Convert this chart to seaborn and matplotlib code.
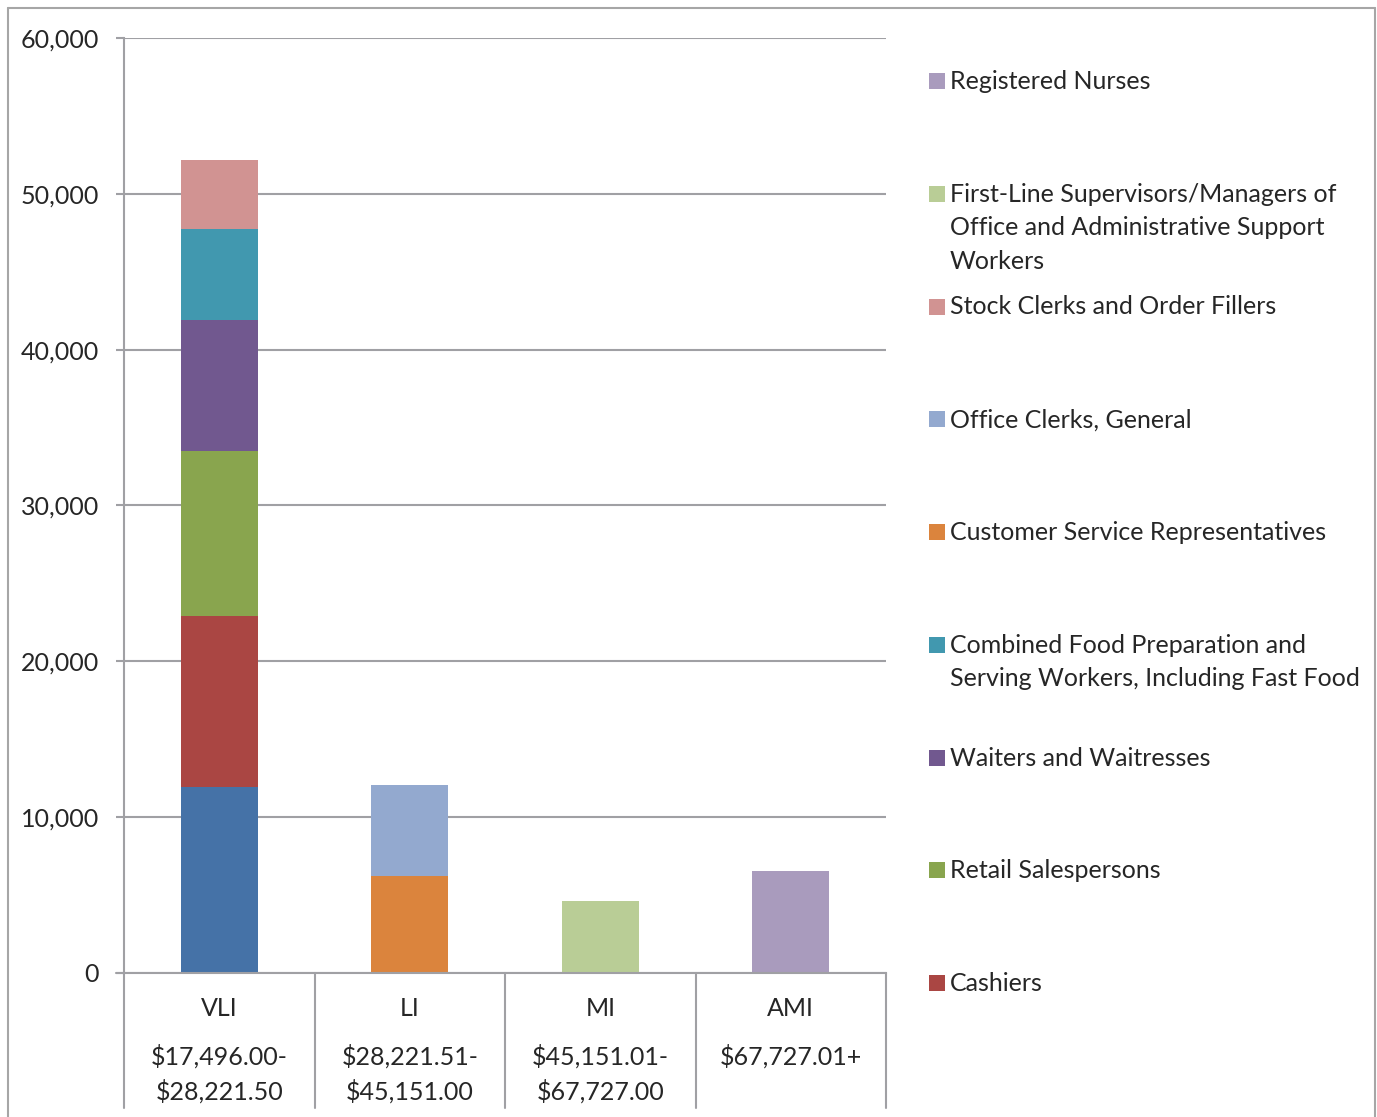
import matplotlib
matplotlib.use("Agg")
import matplotlib.pyplot as plt
import matplotlib.transforms as mtransforms
from matplotlib.patches import Rectangle
from matplotlib.lines import Line2D
import numpy as np
import pandas as pd
import seaborn as sns

# --- data ---
categories = ["VLI", "LI", "MI", "AMI"]
income_ranges = ["$17,496.00-\n$28,221.50", "$28,221.51-\n$45,151.00",
                 "$45,151.01-\n$67,727.00", "$67,727.01+"]

# stacking order (bottom -> top) for each bar
occupations = ["Unlabeled occupation", "Cashiers", "Retail Salespersons",
               "Waiters and Waitresses",
               "Combined Food Preparation and\nServing Workers, Including Fast Food",
               "Stock Clerks and Order Fillers",
               "Customer Service Representatives", "Office Clerks, General",
               "First-Line Supervisors/Managers of\nOffice and Administrative Support\nWorkers",
               "Registered Nurses"]
occ_category = ["VLI", "VLI", "VLI", "VLI", "VLI", "VLI", "LI", "LI", "MI", "AMI"]
employment = [11950, 10960, 10590, 8400, 5840, 4430, 6220, 5840, 4620, 6550]
colors = ["#4572A7", "#AA4643", "#89A54E", "#71588F", "#4198AF", "#D19392",
          "#DB843D", "#93A9CF", "#B9CD96", "#A99BBD"]

# legend order as in the reference (top -> bottom), blue segment not listed
legend_order = [9, 8, 5, 7, 6, 4, 3, 2, 1]

df = pd.DataFrame({"occupation": occupations, "category": occ_category,
                   "employment": employment, "color": colors})
df["top"] = df.groupby("category")["employment"].cumsum()

sns.set_style("white")
plt.rcParams["font.family"] = ["Lato", "DejaVu Sans"]

W, H = 1377, 1117
fig = plt.figure(figsize=(W / 100, H / 100), dpi=100)
ax = fig.add_axes([124 / W, 1 - 973 / H, (886 - 124) / W, (973 - 38) / H])

grid_c = "#A0A0A4"
text_c = "#262626"
fs = 18

# stacked bars: draw cumulative tops from top segment down
for i in reversed(range(len(df))):
    row = df.iloc[i]
    sns.barplot(x=[row["category"]], y=[row["top"]], order=categories,
                color=row["color"], saturation=1, width=0.404, ax=ax,
                edgecolor="none", linewidth=0)

ax.set_xlim(-0.5, 3.5)
ax.set_ylim(0, 60000)
ax.set_yticks(np.arange(0, 60001, 10000))
ax.set_yticklabels([f"{v:,}" for v in range(0, 60001, 10000)])
ax.yaxis.grid(True, color=grid_c, linewidth=1.5)
ax.set_axisbelow(True)
ax.set_xlabel("")
ax.set_ylabel("")
for s in ["top", "right"]:
    ax.spines[s].set_visible(False)
for s in ["left", "bottom"]:
    ax.spines[s].set_color(grid_c)
    ax.spines[s].set_linewidth(1.5)
ax.tick_params(axis="y", length=6, width=1.5, color=grid_c, pad=12,
               labelsize=fs, labelcolor=text_c, left=True)
ax.tick_params(axis="x", length=0, pad=17, labelsize=fs, labelcolor=text_c)

# category boxes below the axis
trans = mtransforms.blended_transform_factory(ax.transData, ax.transAxes)
y_low = -(1108 - 973) / (973 - 38)
for xb in np.arange(-0.5, len(categories), 1.0):
    ax.add_line(Line2D([xb, xb], [0, y_low], transform=trans, color=grid_c,
                       lw=1.5, clip_on=False))
ax.add_line(Line2D([-0.5 - 0.042, -0.5], [0, 0], transform=trans, color=grid_c,
                   lw=1.5, clip_on=False))
for i, rng in enumerate(income_ranges):
    ax.text(i, -(1044 - 973) / (973 - 38), rng, transform=trans, ha="center",
            va="top", fontsize=fs, color=text_c, linespacing=1.55)

# legend drawn as in the reference, evenly spaced slots
for k, idx in enumerate(legend_order):
    yc = 81 + k * 112.75
    fig.add_artist(Rectangle((929 / W, 1 - (yc + 8) / H), 16 / W, 16 / H,
                             transform=fig.transFigure, color=colors[idx], lw=0))
    fig.text(950 / W, 1 - (yc - 11) / H, occupations[idx], ha="left", va="top",
             fontsize=fs, color=text_c, linespacing=1.55)

# outer chart border (bottom edge cut off)
bc = "#A6A6A6"
fig.add_artist(Line2D([8 / W, 8 / W], [0, 1 - 8 / H], color=bc, lw=1.5))
fig.add_artist(Line2D([1375 / W, 1375 / W], [0, 1 - 8 / H], color=bc, lw=1.5))
fig.add_artist(Line2D([8 / W, 1375 / W], [1 - 8 / H, 1 - 8 / H], color=bc, lw=1.5))

fig.savefig("out.png", dpi=100)
